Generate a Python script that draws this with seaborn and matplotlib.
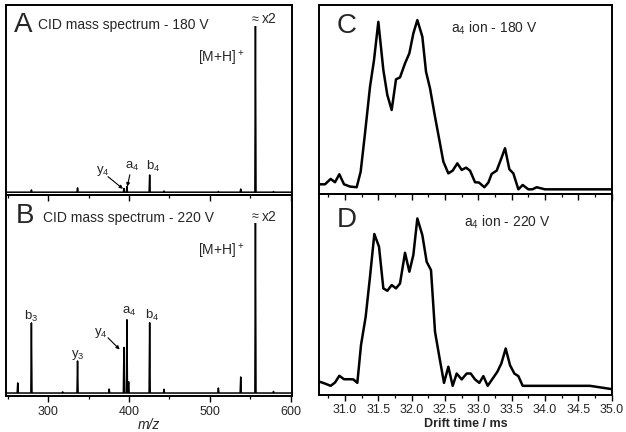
import numpy as np
import pandas as pd
import matplotlib
matplotlib.use("Agg")
import matplotlib.pyplot as plt
from matplotlib.ticker import MultipleLocator
import seaborn as sns

# ---------------- data ----------------
# Mass spectra (stick peaks): m/z and relative intensity
mz_a = [279.4, 336.4, 393.7, 397.4, 425.5, 443.2, 510.4, 538.0, 556.2, 578.5]
int_a = [1.2, 2.3, 2.0, 3.0, 9.2, 0.6, 0.4, 1.7, 92.0, 0.4]

mz_b = [262.5, 279.4, 318.0, 336.4, 375.5, 393.7, 397.4, 399.5, 425.5, 443.2, 510.4, 538.0, 556.2, 578.5]
int_b = [5.1, 35.4, 0.6, 16.2, 2.0, 23.0, 37.0, 5.7, 35.5, 1.9, 2.5, 8.1, 87.0, 0.8]

# Arrival time distributions of the a4 ion
drift_c = [30.625, 30.70, 30.785, 30.85, 30.915, 30.985, 31.075, 31.175, 31.235, 31.30,
           31.375, 31.435, 31.50, 31.575, 31.635, 31.70, 31.765, 31.825, 31.90, 31.965,
           32.025, 32.085, 32.16, 32.215, 32.275, 32.35, 32.415, 32.475, 32.55, 32.615,
           32.685, 32.75, 32.815, 32.875, 32.95, 33.01, 33.09, 33.15, 33.20, 33.275,
           33.335, 33.40, 33.465, 33.525, 33.60, 33.665, 33.75, 33.81, 33.875, 34.0, 35.0]
sig_c = [5.0, 5.0, 8.1, 6.2, 10.8, 5.0, 3.7, 3.3, 12.3, 34.4,
         61.3, 76.7, 98.8, 71.0, 56.5, 47.9, 65.6, 66.7, 74.8, 80.6,
         92.1, 99.8, 90.2, 70.0, 60.4, 44.0, 30.6, 18.1, 11.3, 12.9,
         17.1, 13.3, 14.6, 12.9, 6.2, 6.0, 3.3, 6.0, 11.0, 12.9,
         19.0, 25.8, 13.7, 11.3, 2.1, 4.6, 2.1, 2.1, 3.3, 2.1, 2.1]

drift_d = [30.625, 30.70, 30.785, 30.85, 30.915, 30.985, 31.075, 31.125, 31.185, 31.24,
           31.31, 31.375, 31.44, 31.51, 31.575, 31.635, 31.70, 31.765, 31.825, 31.90,
           31.965, 32.025, 32.085, 32.16, 32.225, 32.29, 32.35, 32.415, 32.485, 32.55,
           32.615, 32.675, 32.75, 32.825, 32.885, 32.95, 33.015, 33.075, 33.14, 33.215,
           33.285, 33.345, 33.41, 33.475, 33.54, 33.60, 33.665, 34.675, 35.0]
sig_d = [7.3, 6.3, 5.0, 6.9, 10.8, 8.8, 8.8, 8.7, 6.7, 28.5,
         44.8, 67.9, 92.5, 85.2, 61.2, 59.8, 63.1, 61.2, 64.0, 81.7,
         70.8, 80.4, 101.5, 91.9, 76.5, 71.7, 36.2, 21.7, 6.7, 16.0,
         5.0, 12.1, 8.7, 12.1, 12.1, 8.7, 6.7, 10.6, 5.0, 9.2,
         13.1, 17.9, 26.5, 16.9, 12.1, 10.6, 5.0, 5.0, 3.1]

mz_ticks = [300, 400, 500, 600]
drift_ticks = [31.0, 31.5, 32.0, 32.5, 33.0, 33.5, 34.0, 34.5, 35.0]

# ---------------- style ----------------
sns.set_theme(style="ticks")
plt.rcParams["font.family"] = ["Liberation Sans", "DejaVu Sans"]
plt.rcParams["mathtext.default"] = "regular"
plt.rcParams["axes.linewidth"] = 1.4
plt.rcParams["axes.edgecolor"] = "black"


def stick_frame(mz, inten, lo=248, hi=601, half=0.7):
    xs, ys = [lo], [0.0]
    for m, h in zip(mz, inten):
        xs += [m - half, m, m + half]
        ys += [0.0, h, 0.0]
    xs.append(hi)
    ys.append(0.0)
    return pd.DataFrame({"mz": xs, "I": ys})


fig = plt.figure(figsize=(6.26, 4.32), dpi=100)
W, H = 626.0, 432.0


def add_ax(x0, x1, y0, y1):
    ax = fig.add_axes([x0 / W, 1 - y1 / H, (x1 - x0) / W, (y1 - y0) / H])
    ax.patch.set_visible(False)
    for s in ax.spines.values():
        s.set_color("black")
        s.set_linewidth(1.4)
    return ax


axA = add_ax(6, 291.7, 5, 195)
axB = add_ax(6, 291.7, 195, 396)
axC = add_ax(319, 611.7, 5, 194)
axD = add_ax(319, 611.7, 194, 394.5)

for ax, mz, inten in [(axA, mz_a, int_a), (axB, mz_b, int_b)]:
    df = stick_frame(mz, inten)
    sns.lineplot(data=df, x="mz", y="I", ax=ax, color="black", lw=1.1,
                 estimator=None, sort=False)
    ax.set_xlim(248, 601)
    ax.set_ylim(-1.5, 100)
    ax.set_xticks(mz_ticks)
    ax.xaxis.set_minor_locator(MultipleLocator(50))
    ax.set_yticks([])
    ax.set_ylabel("")
    ax.set_xlabel("")
    ax.tick_params(axis="x", which="major", direction="out", length=4, width=1.0,
                   labelsize=9, pad=3, color="black")
    ax.tick_params(axis="x", which="minor", direction="out", length=2.5, width=0.9,
                   color="black")

axA.tick_params(axis="x", labelbottom=False)
axB.set_xlabel("m/z", fontsize=10, style="italic", labelpad=0)

for ax, t, s in [(axC, drift_c, sig_c), (axD, drift_d, sig_d)]:
    df = pd.DataFrame({"t": t, "s": s})
    sns.lineplot(data=df, x="t", y="s", ax=ax, color="black", lw=1.8,
                 estimator=None, sort=False)
    ax.set_xlim(30.61, 35.0)
    ax.set_xticks(drift_ticks)
    ax.set_xticklabels([f"{v:.1f}" for v in drift_ticks])
    ax.xaxis.set_minor_locator(MultipleLocator(0.25))
    ax.set_yticks([])
    ax.set_ylabel("")
    ax.set_xlabel("")
    ax.tick_params(axis="x", which="major", direction="out", length=4, width=1.0,
                   labelsize=9, pad=3, color="black")
    ax.tick_params(axis="x", which="minor", direction="out", length=2.5, width=0.9,
                   color="black")

axC.set_ylim(-0.6, 108.5)
axD.set_ylim(0, 115.6)
axC.tick_params(axis="x", labelbottom=False)
axD.set_xlabel("Drift time / ms", fontsize=9, fontweight="bold", labelpad=1)

# ---------------- annotations ----------------
big = 20
lab = 10
axA.text(0.028, 0.858, "A", transform=axA.transAxes, fontsize=big, va="baseline", ha="left")
axA.text(0.113, 0.872, "CID mass spectrum - 180 V", transform=axA.transAxes,
         fontsize=lab, va="baseline", ha="left")
axB.text(0.035, 0.861, "B", transform=axB.transAxes, fontsize=big, va="baseline", ha="left")
axB.text(0.13, 0.864, "CID mass spectrum - 220 V", transform=axB.transAxes,
         fontsize=lab, va="baseline", ha="left")
axC.text(0.06, 0.852, "C", transform=axC.transAxes, fontsize=big, va="baseline", ha="left")
axC.text(0.45, 0.855, "a$_4$ ion - 180 V", transform=axC.transAxes,
         fontsize=lab, va="baseline", ha="left")
axD.text(0.06, 0.837, "D", transform=axD.transAxes, fontsize=big, va="baseline", ha="left")
axD.text(0.495, 0.837, "a$_4$ ion - 220 V", transform=axD.transAxes,
         fontsize=lab, va="baseline", ha="left")

pk = 9.5
# Panel A labels
axA.text(368, 11.5, "y$_4$", fontsize=pk, ha="center", va="center")
axA.annotate("", xy=(392.5, 1.8), xytext=(374, 8.3),
             arrowprops=dict(arrowstyle="-|>", color="black", lw=0.8,
                             mutation_scale=5, shrinkA=0, shrinkB=0))
axA.text(404.5, 13.5, "a$_4$", fontsize=pk, ha="center", va="center")
axA.annotate("", xy=(397.8, 3.0), xytext=(401, 9.3),
             arrowprops=dict(arrowstyle="-|>", color="black", lw=0.8,
                             mutation_scale=5, shrinkA=0, shrinkB=0))
axA.text(429.5, 13.5, "b$_4$", fontsize=pk, ha="center", va="center")
axA.text(543.5, 71.5, "[M+H]$^+$", fontsize=lab, ha="right", va="center")
axA.text(556.2, 92.0, "≈", fontsize=9, ha="center", va="center",
         bbox=dict(facecolor="white", edgecolor="none", pad=0.2))
axA.text(564.5, 92.5, "x2", fontsize=lab, ha="left", va="center")

# Panel B labels
axB.text(278.6, 38.8, "b$_3$", fontsize=pk, ha="center", va="center")
axB.text(336.8, 19.3, "y$_3$", fontsize=pk, ha="center", va="center")
axB.text(365, 30.5, "y$_4$", fontsize=pk, ha="center", va="center")
axB.annotate("", xy=(388.5, 22.0), xytext=(374, 27.9),
             arrowprops=dict(arrowstyle="-|>", color="black", lw=0.8,
                             mutation_scale=5, shrinkA=0, shrinkB=0))
axB.text(400, 41.0, "a$_4$", fontsize=pk, ha="center", va="center")
axB.text(428.3, 39.0, "b$_4$", fontsize=pk, ha="center", va="center")
axB.text(543.5, 71.7, "[M+H]$^+$", fontsize=lab, ha="right", va="center")
axB.text(556.2, 88.8, "≈", fontsize=9, ha="center", va="center",
         bbox=dict(facecolor="white", edgecolor="none", pad=0.2))
axB.text(564.5, 88.8, "x2", fontsize=lab, ha="left", va="center")

fig.savefig("out.png", dpi=100, facecolor="white")
